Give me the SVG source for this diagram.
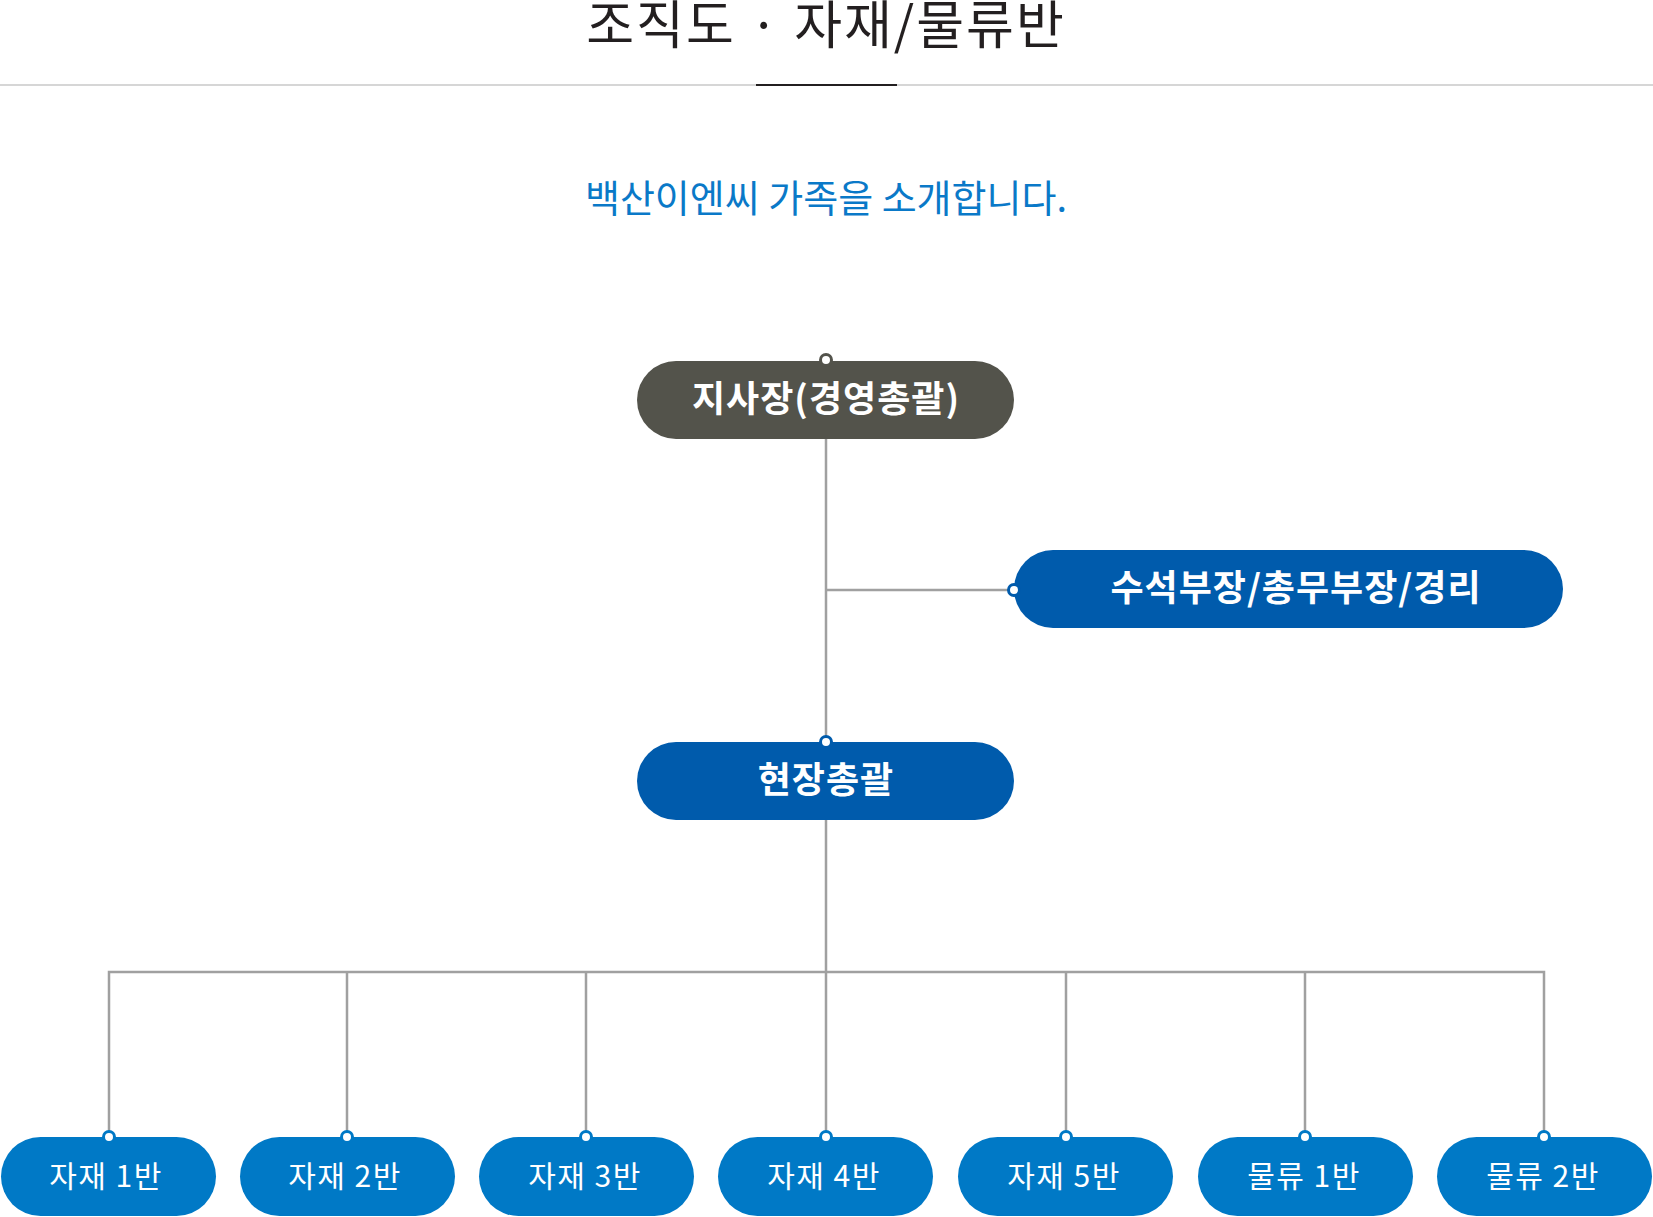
<svg xmlns="http://www.w3.org/2000/svg" width="1653" height="1217" viewBox="0 0 1653 1217">
<style>
text{font-family:"Noto Sans CJK KR","Noto Sans",sans-serif;text-anchor:middle}
.t{fill:#fff}
.b{font-size:36px;font-weight:700;letter-spacing:1px}
.s{font-size:30px;font-weight:400;letter-spacing:1.5px}
.ln{stroke:#a0a0a0;stroke-width:2.5;fill:none}
.dot{fill:#fff;stroke-width:3}
</style>
<rect width="1653" height="1217" fill="#fff"/>
<text x="826" y="44" font-size="52" letter-spacing="2" fill="#231f20">조직도 · 자재/물류반</text>
<line x1="0" y1="85" x2="1653" y2="85" stroke="#c8c8c8" stroke-width="1.5"/>
<line x1="756" y1="85" x2="897" y2="85" stroke="#231f20" stroke-width="2"/>
<text x="826" y="212" font-size="38" fill="#0a79c8">백산이엔씨 가족을 소개합니다.</text>
<g id="connectors">
<path class="ln" d="M826 439V972M826 590H1014M109 1137V972H1544V1137M347 972V1137M586 972V1137M826 972V1137M1066 972V1137M1305 972V1137"/>
</g>
<g id="n1"><rect x="637" y="361" width="377" height="78" rx="39" fill="#53534b"/><circle class="dot" cx="826" cy="360" r="5.5" stroke="#53534b"/><text class="t b" x="826" y="412">지사장(경영총괄)</text></g>
<g id="n2"><rect x="1014" y="550" width="549" height="78" rx="39" fill="#005bac"/><circle class="dot" cx="1014" cy="590" r="5.5" stroke="#005bac"/><text class="t b" x="1296" y="601">수석부장/총무부장/경리</text></g>
<g id="n3"><rect x="637" y="742" width="377" height="78" rx="39" fill="#005bac"/><circle class="dot" cx="826" cy="742" r="5.5" stroke="#005bac"/><text class="t b" x="826" y="793">현장총괄</text></g>
<g id="b1"><rect x="1" y="1137" width="215" height="79" rx="39.5" fill="#0079c6"/><circle class="dot" cx="109" cy="1137" r="5.5" stroke="#0079c6"/><text class="t s" x="106" y="1187">자재 1반</text></g>
<g id="b2"><rect x="240" y="1137" width="215" height="79" rx="39.5" fill="#0079c6"/><circle class="dot" cx="347" cy="1137" r="5.5" stroke="#0079c6"/><text class="t s" x="345" y="1187">자재 2반</text></g>
<g id="b3"><rect x="479" y="1137" width="215" height="79" rx="39.5" fill="#0079c6"/><circle class="dot" cx="586" cy="1137" r="5.5" stroke="#0079c6"/><text class="t s" x="585" y="1187">자재 3반</text></g>
<g id="b4"><rect x="718" y="1137" width="215" height="79" rx="39.5" fill="#0079c6"/><circle class="dot" cx="826" cy="1137" r="5.5" stroke="#0079c6"/><text class="t s" x="824" y="1187">자재 4반</text></g>
<g id="b5"><rect x="958" y="1137" width="215" height="79" rx="39.5" fill="#0079c6"/><circle class="dot" cx="1066" cy="1137" r="5.5" stroke="#0079c6"/><text class="t s" x="1064" y="1187">자재 5반</text></g>
<g id="b6"><rect x="1198" y="1137" width="215" height="79" rx="39.5" fill="#0079c6"/><circle class="dot" cx="1305" cy="1137" r="5.5" stroke="#0079c6"/><text class="t s" x="1304" y="1187">물류 1반</text></g>
<g id="b7"><rect x="1437" y="1137" width="215" height="79" rx="39.5" fill="#0079c6"/><circle class="dot" cx="1544" cy="1137" r="5.5" stroke="#0079c6"/><text class="t s" x="1543" y="1187">물류 2반</text></g>
</svg>
